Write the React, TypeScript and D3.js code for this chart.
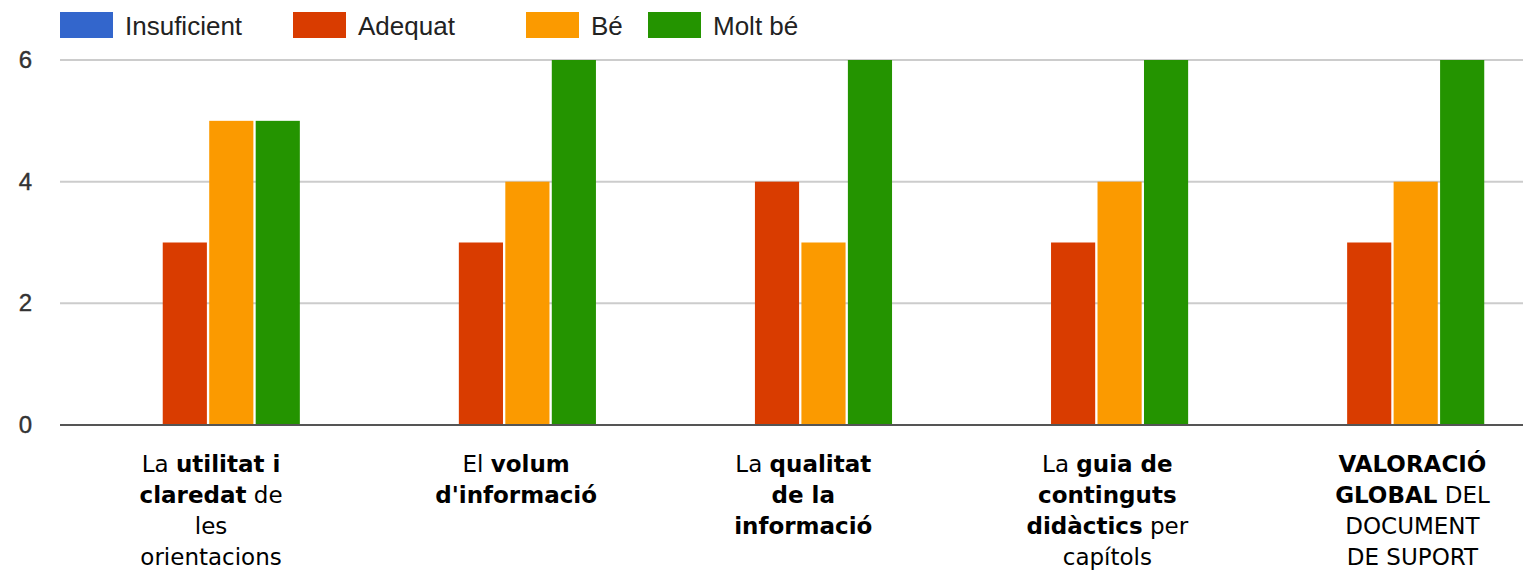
import React from 'react';
import * as d3 from 'd3';

const width = 1523;
const height = 570;

const series = ['Insuficient', 'Adequat', 'Bé', 'Molt bé'];
const colors = ['#3366cc', '#d93c00', '#fb9a00', '#249400'];

const categories = ['utilitat', 'volum', 'qualitat', 'guia', 'global'];

// values per category, in series order
const insuficient = [0, 0, 0, 0, 0];
const adequat = [3, 3, 4, 3, 3];
const be = [5, 4, 3, 4, 4];
const moltBe = [5, 6, 6, 6, 6];

const yTicks = [0, 2, 4, 6];

// category labels: lines of [text, bold] pieces
const labels: [string, boolean][][][] = [
  [[['La ', false], ['utilitat i', true]], [['claredat', true], [' de', false]], [['les', false]], [['orientacions', false]]],
  [[['El ', false], ['volum', true]], [["d'informació", true]]],
  [[['La ', false], ['qualitat', true]], [['de la', true]], [['informació', true]]],
  [[['La ', false], ['guia de', true]], [['continguts', true]], [['didàctics', true], [' per', false]], [['capítols', false]]],
  [[['VALORACIÓ', true]], [['GLOBAL', true], [' DEL', false]], [['DOCUMENT', false]], [['DE SUPORT', false]]],
];

const values = [insuficient, adequat, be, moltBe];

export default function App() {
  const x0 = d3.scaleBand<string>().domain(categories).range([60, 1540.5]).paddingInner(0.38).paddingOuter(0.19);
  const x1 = d3.scaleBand<string>().domain(series).range([0, x0.bandwidth()]).paddingInner(0.05);
  const y = d3.scaleLinear().domain([0, 6]).range([425, 60]);
  // the labels in the original sit a little off their group centres
  const labelNudge = [3, 12, 3, 11, 20];

  return (
    <svg width={width} height={height} style={{ position: 'absolute', left: 0, top: 0, background: '#fff' }}>
      {/* legend */}
      {series.map((s, i) => {
        const lx = [60, 293, 526, 648][i];
        return (
          <g key={s}>
            <rect x={lx} y={12} width={53} height={26} fill={colors[i]} />
            <text x={lx + 65} y={35} fontFamily="Liberation Sans, Arial" fontSize={26} fill="#222">{s}</text>
          </g>
        );
      })}

      {/* grid */}
      {yTicks.map(t => (
        <g key={t}>
          {t > 0 && <line x1={60} x2={width} y1={y(t)} y2={y(t)} stroke="#cccccc" strokeWidth={2} />}
          <text x={32} y={y(t) + 8} textAnchor="end" fontFamily="Liberation Sans, Arial" fontSize={24} fill="#333" stroke="#333" strokeWidth={0.4}>{t}</text>
        </g>
      ))}

      {/* bars */}
      {categories.map((c, ci) => (
        <g key={c} transform={`translate(${x0(c)},0)`}>
          {series.map((s, si) => {
            const v = values[si][ci];
            return (
              <rect key={s} x={x1(s)} y={y(v)} width={x1.bandwidth()} height={Math.max(0, y(0) - y(v))} fill={colors[si]} />
            );
          })}
        </g>
      ))}

      {/* baseline */}
      <line x1={60} x2={width} y1={y(0)} y2={y(0)} stroke="#555" strokeWidth={2} />

      {/* category labels */}
      {categories.map((c, ci) => (
        <text key={c} textAnchor="middle" fontFamily="DejaVu Sans, Verdana" fontSize={23} fill="#000">
          {labels[ci].map((line, li) => (
            <tspan key={li} x={(x0(c) ?? 0) + x0.bandwidth() / 2 + labelNudge[ci]} y={472 + li * 31}>
              {line.map(([t, b], k) => (
                <tspan key={k} fontWeight={b ? 'bold' : 'normal'}>{t}</tspan>
              ))}
            </tspan>
          ))}
        </text>
      ))}
    </svg>
  );
}
